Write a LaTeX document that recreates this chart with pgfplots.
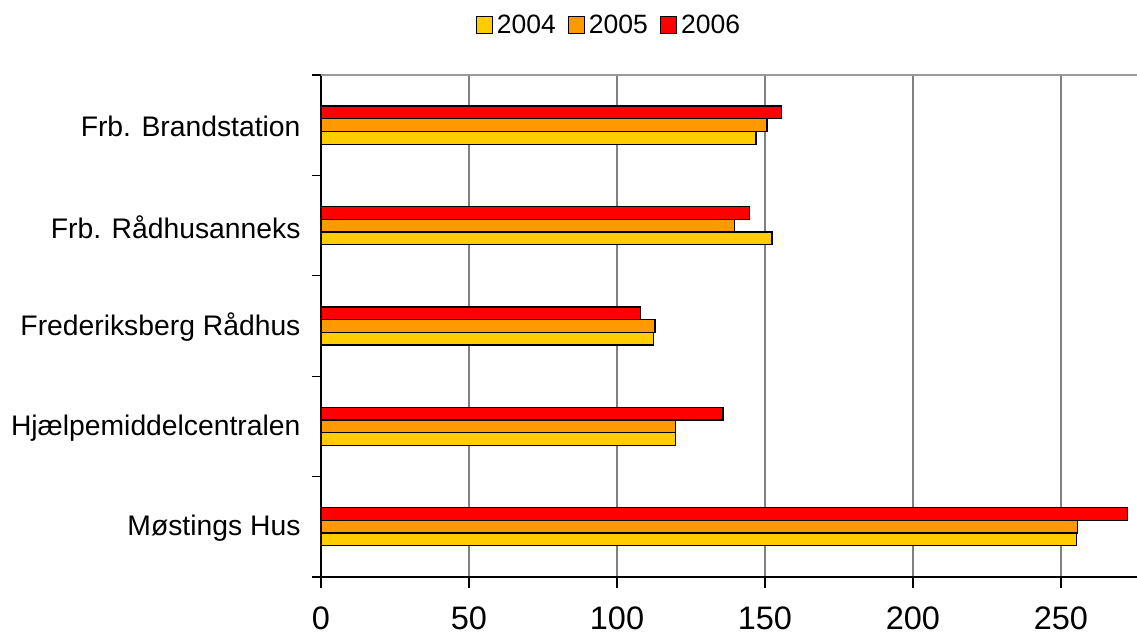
\documentclass[border=0pt]{standalone}
\usepackage{fontspec}
\setmainfont{Liberation Sans}
\usepackage{pgfplots}
\pgfplotsset{compat=1.18}
\definecolor{c04}{RGB}{255,204,0}
\definecolor{c05}{RGB}{255,153,0}
\definecolor{c06}{RGB}{255,0,0}
\definecolor{gridgray}{RGB}{128,128,128}
\begin{document}
\begin{tikzpicture}
\begin{axis}[
  at={(0pt,0pt)}, anchor=south west,
  scale only axis, width=816pt, height=502pt,
  xbar, bar width=12.7pt,
  xmin=0, xmax=275.7, ymin=-0.5, ymax=4.5,
  axis x line*=bottom, axis y line*=left,
  axis line style={line width=1.3pt, black, -},
  xtick={0,50,100,150,200,250},
  ytick={0,1,2,3,4},
  yticklabels={Møstings Hus, Hjælpemiddelcentralen, Frederiksberg Rådhus, Frb. Rådhusanneks, Frb. Brandstation},
  minor ytick={-0.5,0.5,1.5,2.5,3.5,4.5},
  tick align=outside,
  major tick length=11pt, minor tick length=9pt,
  major y tick style={draw=none},
  minor y tick style={line width=1.2pt, black},
  major x tick style={line width=1.2pt, black},
  xmajorgrids, major x grid style={gridgray, line width=1.2pt},
  /pgf/number format/assume math mode=true,
  x tick label style={font=\fontsize{32.5}{38}\selectfont, yshift=-15pt},
  y tick label style={font=\fontsize{28.3}{34}\selectfont, xshift=-6pt, yshift=-1.5pt},
  legend columns=3,
  legend style={at={(0.354,1.0996)}, anchor=center, draw=none,
    font=\fontsize{26.5}{31}\selectfont,
    /tikz/every even column/.append style={column sep=8pt},
    nodes={inner xsep=4pt}},
  legend image code/.code={\draw[#1,draw=black,line width=1.2pt] (0pt,-8.5pt) rectangle (16pt,8.5pt);},
  every axis plot/.append style={draw=black, line width=1.3pt},
]
\addplot[fill=c04, bar shift=-12.7pt] coordinates {(255.3,0) (119.8,1) (112.4,2) (152.4,3) (147.0,4)};
\addplot[fill=c05, bar shift=0pt] coordinates {(255.7,0) (119.8,1) (112.8,2) (139.8,3) (150.7,4)};
\addplot[fill=c06, bar shift=12.7pt] coordinates {(272.6,0) (135.8,1) (107.9,2) (144.7,3) (155.7,4)};
\legend{2004,2005,2006}
\draw[gray!80, line width=1.3pt] ([xshift=-9pt]rel axis cs:0,1) -- (rel axis cs:1,1);
\end{axis}
\pgfresetboundingbox
\path (-321pt,-62pt) rectangle (816pt,577pt);
\end{tikzpicture}
\end{document}
